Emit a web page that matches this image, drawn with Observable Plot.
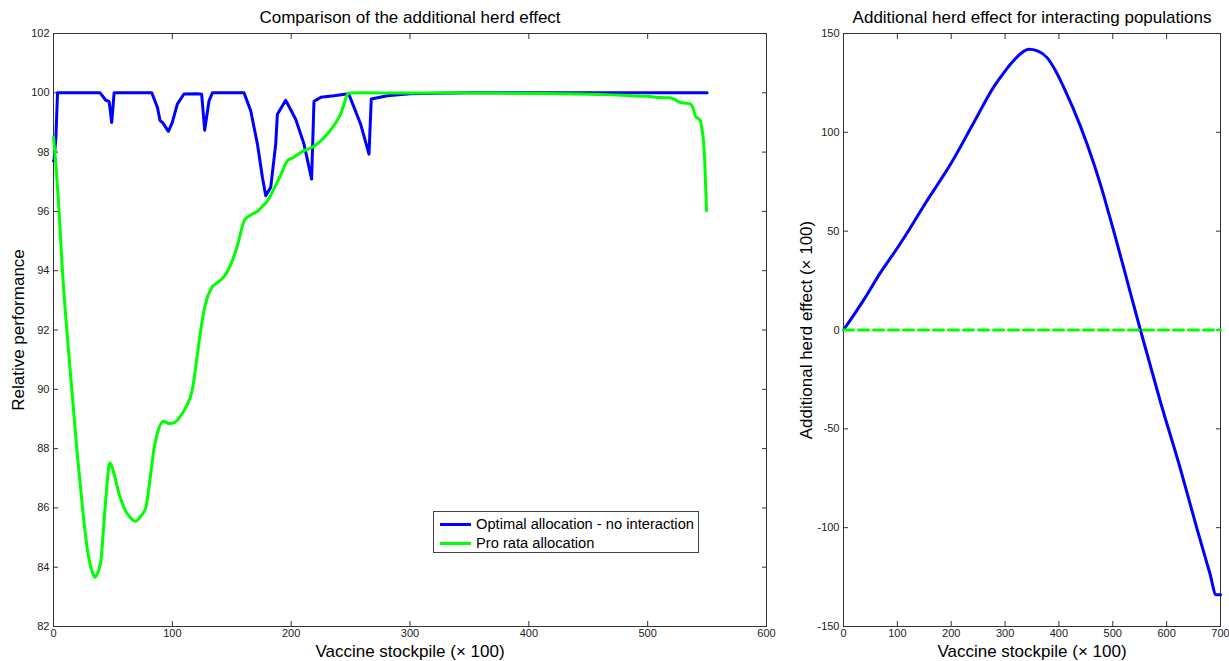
<!DOCTYPE html>
<html>
<head>
<meta charset="utf-8">
<script src="https://cdn.jsdelivr.net/npm/d3@7"></script>
<script src="https://cdn.jsdelivr.net/npm/@observablehq/plot@0.6"></script>
<style>
  body { margin: 0; background: #fff; }
  #wrap { position: relative; width: 1229px; height: 661px; font-family: "Liberation Sans", Arial, Helvetica, sans-serif; }
  #left, #right { position: absolute; top: 0; }
  #left { left: 0; }
  #right { left: 780px; }
  #legend {
    position: absolute; left: 433px; top: 511px; width: 264px; height: 40px;
    border: 1px solid #444; background: #fff; font-size: 14.7px; color: #000;
    box-sizing: content-box;
  }
  #legend .row { position: absolute; left: 0; height: 18px; display: flex; align-items: center; white-space: nowrap; }
  #legend .swatch { width: 31px; height: 3px; margin-left: 6px; margin-right: 5px; }
</style>
</head>
<body>
<div id="wrap">
  <div id="left"></div>
  <div id="right"></div>
  <div id="legend"></div>
</div>
<script>
// Relative performance (%) against vaccine stockpile (× 100)
const optimalX = [0, 0.5, 2, 3.4, 39.2, 44, 46.8, 49, 51, 82.7, 87.5, 89.7, 91.7, 96.7, 100, 104.2, 109.8, 121, 124.7, 127.2, 130.9, 133.7,
  160.3, 166, 171.6, 175.8, 178.6, 182.8, 187, 188.4, 195.4, 203.8, 210.8, 217.2, 219.2, 225, 236, 248.4, 253, 258.4, 265.5, 267.4,
  280.9, 300, 350, 400, 450, 500, 550];
const optimalY = [97.7, 97.73, 98.49, 100, 100, 99.75, 99.71, 99.0, 100, 100, 99.5, 99.06, 99.0, 98.7, 99.0, 99.62, 99.96, 99.97, 99.95, 98.74, 99.73, 100,
  100, 99.39, 98.27, 97.15, 96.53, 96.81, 98.27, 99.28, 99.75, 99.11, 98.27, 97.09, 99.71, 99.85, 99.9, 99.97, 99.5, 98.95, 97.93, 99.79,
  99.9, 99.97, 100, 100, 100, 100, 100];

const proRataX = [0, 2, 4.4, 7.5, 11.2, 15.4, 19.6, 24.4, 28.5, 31.4, 33.5, 35, 36.5, 39.8, 43.4, 47.4, 51, 55, 59.4, 64, 69.2, 73, 77.6,
  81, 84.6, 88, 92.5, 97, 101.4, 106, 111.3, 116.9, 120.5, 123.9, 128, 132.9, 138, 143.5, 150.5, 154.7, 160.9, 166, 171.6, 176.5, 180.8,
  186, 191.5, 196.8, 201, 210.8, 217.2, 230.4, 241.6, 248.6, 260, 300, 350, 400, 443.5, 470, 485.6, 500, 510.8, 518, 522, 527.7,
  533, 536, 538, 540.2, 544.4, 545.5, 546.7, 548, 549.5];
const proRataY = [98.5, 97.6, 96.2, 94, 92, 90, 88, 86, 84.6, 84, 83.75, 83.66, 83.75, 84.2, 86, 87.52, 87.14, 86.5, 86.0, 85.7, 85.55, 85.7, 86.0,
  86.9, 88, 88.6, 88.92, 88.85, 88.87, 89.05, 89.39, 90, 91, 92, 92.9, 93.42, 93.6, 93.8, 94.34, 94.84, 95.72, 95.88, 96.0, 96.2, 96.4,
  96.8, 97.25, 97.71, 97.8, 98.05, 98.15, 98.61, 99.28, 99.99, 100, 99.99, 99.99, 99.98, 99.96, 99.93, 99.9, 99.88, 99.84, 99.83, 99.79, 99.67,
  99.65, 99.62, 99.5, 99.22, 99.06, 98.8, 98.49, 97.71, 96.02];

// Additional herd effect (× 100) for interacting populations
const herdX = [0, 38.2, 69.2, 100, 124.8, 149.5, 180.4, 199, 242, 279, 300, 316, 330, 344, 360, 378, 395, 409, 440, 465, 480, 492.5, 501.8,
  526.6, 551.3, 588.4, 625.5, 656.4, 680, 692, 700];
const herdY = [0, 15.5, 29.3, 41.5, 52, 63, 76, 84, 105, 123, 131, 136.3, 140, 142, 141.2, 137.8, 130.5, 122.7, 103, 84, 71, 59, 50,
  25, 0, -36.3, -70.2, -100.6, -122.8, -134, -134];
const baselineX = [0, 700];
const baselineY = [0, 0];

const leftXTicks = [0, 100, 200, 300, 400, 500, 600];
const leftYTicks = [82, 84, 86, 88, 90, 92, 94, 96, 98, 100, 102];
const rightXTicks = [0, 100, 200, 300, 400, 500, 600, 700];
const rightYTicks = [-150, -100, -50, 0, 50, 100, 150];

const seriesNames = ["Optimal allocation - no interaction", "Pro rata allocation"];
const seriesColors = ["#0000ff", "#00ff00"];

const font = '"Liberation Sans", Arial, Helvetica, sans-serif';
const axisColor = "#333";

const toRows = (xs, ys) => xs.map((x, i) => ({x, y: ys[i]}));

function panel({width, marginLeft, marginRight, xDomain, yDomain, xTicks, yTicks, title, xLabel, yLabel, yLabelDx, lines}) {
  const centered = {text: d => d, textAnchor: "middle", lineAnchor: "middle", fill: "#000"};
  return Plot.plot({
    width, height: 661, marginLeft, marginRight, marginTop: 33, marginBottom: 35,
    style: {fontFamily: font, fontSize: "11px", color: "#222", background: "white", overflow: "visible"},
    x: {domain: xDomain},
    y: {domain: yDomain},
    marks: [
      Plot.frame({stroke: axisColor}),
      Plot.axisX(xTicks, {anchor: "bottom", tickSize: -5, tickPadding: 8, tickFormat: d => String(d), label: null, stroke: axisColor}),
      Plot.axisX(xTicks, {anchor: "top", tickSize: -5, tickFormat: () => "", label: null, stroke: axisColor}),
      Plot.axisY(yTicks, {anchor: "left", tickSize: -5, tickPadding: 9, tickFormat: d => String(d), label: null, stroke: axisColor}),
      Plot.axisY(yTicks, {anchor: "right", tickSize: -5, tickFormat: () => "", label: null, stroke: axisColor}),
      ...lines,
      Plot.text([title], {...centered, frameAnchor: "top", dy: -16, fontSize: 17}),
      Plot.text([xLabel], {...centered, frameAnchor: "bottom", dy: 25, fontSize: 17}),
      Plot.text([yLabel], {...centered, frameAnchor: "left", dx: yLabelDx, rotate: -90, fontSize: 17})
    ]
  });
}

const left = panel({
  width: 790, marginLeft: 53, marginRight: 24,
  xDomain: [0, 600], yDomain: [82, 102],
  xTicks: leftXTicks, yTicks: leftYTicks,
  title: "Comparison of the additional herd effect",
  xLabel: "Vaccine stockpile (× 100)",
  yLabel: "Relative performance",
  yLabelDx: -35,
  lines: [
    Plot.line(toRows(optimalX, optimalY), {x: "x", y: "y", stroke: seriesColors[0], strokeWidth: 3, strokeLinejoin: "round"}),
    Plot.line(toRows(proRataX, proRataY), {x: "x", y: "y", stroke: seriesColors[1], strokeWidth: 3, strokeLinejoin: "round", curve: "monotone-x"})
  ]
});

const right = panel({
  width: 449, marginLeft: 63, marginRight: 9,
  xDomain: [0, 700], yDomain: [-150, 150],
  xTicks: rightXTicks, yTicks: rightYTicks,
  title: "Additional herd effect for interacting populations",
  xLabel: "Vaccine stockpile (× 100)",
  yLabel: "Additional herd effect (× 100)",
  yLabelDx: -37,
  lines: [
    Plot.line(toRows(herdX, herdY), {x: "x", y: "y", stroke: seriesColors[0], strokeWidth: 3, strokeLinejoin: "round", curve: "monotone-x"}),
    Plot.line(toRows(baselineX, baselineY), {x: "x", y: "y", stroke: seriesColors[1], strokeWidth: 3, strokeDasharray: "10,5"})
  ]
});

document.getElementById("left").append(left);
document.getElementById("right").append(right);

// Legend for the left panel
const legend = document.getElementById("legend");
seriesNames.forEach((name, i) => {
  const row = document.createElement("div");
  row.className = "row";
  row.style.top = (3 + i * 19.4) + "px";
  const sw = document.createElement("span");
  sw.className = "swatch";
  sw.style.background = seriesColors[i];
  const label = document.createElement("span");
  label.textContent = name;
  row.append(sw, label);
  legend.append(row);
});
</script>
</body>
</html>
